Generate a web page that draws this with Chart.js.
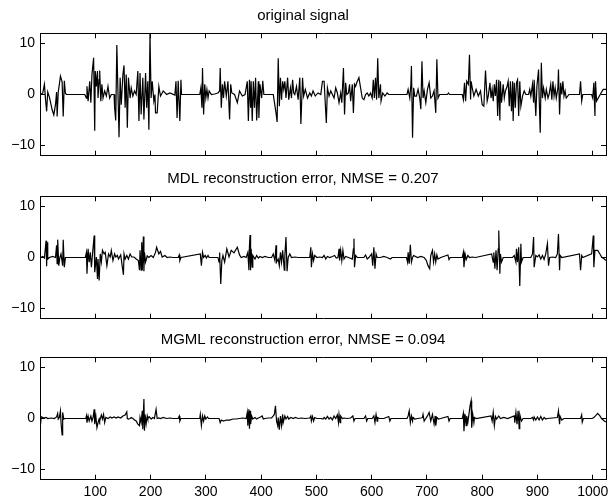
<!DOCTYPE html>
<html>
<head>
<meta charset="utf-8">
<script src="https://cdn.jsdelivr.net/npm/chart.js@4.4.0/dist/chart.umd.min.js"></script>
<style>
  body { margin: 0; background: #fff; }
  #fig { position: relative; width: 613px; height: 498px; }
  canvas { position: absolute; left: 0; }
</style>
</head>
<body>
<div id="fig">
  <canvas id="c1" width="613" height="163" style="top:0px"></canvas>
  <canvas id="c2" width="613" height="163" style="top:163px"></canvas>
  <canvas id="c3" width="613" height="174" style="top:324px"></canvas>
</div>
<script>
// sample index, value pairs
var originalSignal = [
  [1,0],[5,0.3],[8,2.0],[10,-1.0],[12,-3.3],[14,0.5],[17,-0.5],[22,-3.0],[25,-4.0],[28,-2.0],[30,0.5],[31,-4.3],[33,0.5],[35,2.0],[37,3.6],[40,2.5],[42,-4.3],[44,2.7],[46,0.2],[48,0],
  [81,0],[84,-0.7],[85,1.6],[87,-1.3],[90,2.6],[92,-1.6],[94,3.9],[97,7.2],[99,-7.1],[100,4.6],[102,1.6],[104,4.6],[105,-0.7],[107,2.9],[108,4.7],[110,-1.3],[112,2.0],[114,-0.7],[117,0.7],[120,-0.3],[123,1.6],[126,-0.7],[129,0],[134,0],[135,-2.6],[137,-5.1],[139,9.7],[143,-8.4],[145,3.3],[147,-2.0],[150,3.9],[152,5.7],[154,-2.6],[156,3.9],[158,-6.5],[160,3.3],[163,-0.7],[165,1.3],[168,-0.3],[171,0.7],[174,0],[177,4.6],[179,-5.2],[181,4.2],[183,-3.9],[186,3.3],[188,-4.9],[191,4.2],[193,-2.6],[195,2.6],[197,-6.9],[199,11.9],[201,-0.7],[203,2.6],[206,-1.3],[208,0],[209,-3.6],[212,-3.6],[215,1.6],[218,-0.3],[223,0.7],[229,0],[235,0.3],[244,-0.1],[246,2.6],[248,-4.6],[250,2.7],[253,-5.2],[255,2.9],[256,0],
  [289,0],[291,1.3],[293,-2.6],[294,5.2],[296,-3.9],[298,2.0],[300,-0.7],[302,1.0],[304,-0.7],[306,0.7],[310,0],[316,0.1],[322,0.3],[325,0.7],[326,5.2],[328,-2.6],[330,2.0],[332,-0.7],[334,2.6],[337,-0.3],[340,2.6],[343,-4.9],[345,2.0],[347,0.3],[352,0],[357,-1.6],[361,0.7],[366,-0.3],[371,0],[375,2.6],[377,-5.2],[379,2.9],[381,-2.6],[382,2.6],[384,-5.2],[386,2.6],[388,-2.6],[390,3.3],[392,-5.1],[395,2.6],[396,-4.6],[398,2.0],[401,-0.7],[403,2.7],[405,0],[408,0],
  [422,0],[427,-3.6],[429,-5.4],[431,7.1],[433,-2.3],[435,3.3],[437,-1.0],[439,2.6],[441,1.0],[443,2.6],[445,-0.7],[448,3.3],[450,-1.0],[453,1.3],[455,-0.7],[457,2.9],[459,0.3],[461,0],[464,1.6],[467,-1.0],[470,3.3],[472,-5.8],[475,3.3],[477,-0.3],[480,1.0],[484,-0.7],[488,0.3],[491,-0.3],[494,0.7],[498,-0.3],[503,0.3],[508,0],
  [511,2.6],[514,2.6],[518,-5.6],[520,1.3],[523,-0.3],[526,0.7],[529,0],[532,-0.7],[535,1.3],[538,0.3],[541,-1.6],[544,0.3],[546,-1.6],[549,5.2],[551,-3.9],[553,2.3],[555,0],[558,0.3],[560,2.0],[562,-1.3],[565,2.0],[567,-3.6],[569,2.0],[571,1.6],[573,2.3],[577,3.3],[580,1.3],[583,-0.7],[586,-1.0],[589,0],[592,0.3],[595,-0.3],[598,0.3],[601,-0.7],[603,2.9],[605,-0.7],[607,3.3],[609,-1.0],[611,7.1],[613,-0.7],[616,2.0],[617,-1.3],[620,0.3],[624,-0.3],[628,0.3],[631,0],[637,0],
  [664,0],[666,1.0],[669,-0.7],[671,2.0],[672,5.6],[674,-8.5],[676,1.3],[678,-0.3],[681,-0.3],[684,1.0],[687,-0.7],[689,-2.9],[691,6.5],[693,-0.7],[695,0.7],[698,-1.6],[701,1.0],[704,2.3],[707,-0.7],[710,-0.3],[713,0.7],[716,-3.6],[718,6.9],[720,-0.7],[723,0],[737,0],[739,0.3],[741,0],
  [764,0],[766,-1.0],[768,2.3],[770,-1.3],[772,2.6],[775,2.0],[777,7.8],[779,-1.0],[780,2.6],[782,1.3],[785,-0.3],[789,1.0],[793,-0.3],[797,0.7],[800,-2.0],[803,-2.3],[806,4.7],[809,-1.3],[811,-0.3],[814,2.3],[816,-0.7],[818,1.0],[820,-1.3],[822,2.0],[824,-0.3],[826,2.9],[828,-4.2],[830,2.9],[832,-5.1],[833,2.6],[835,-1.6],[838,2.0],[840,-0.7],[842,0.7],[845,1.6],[847,2.6],[849,-2.3],[851,2.6],[853,-3.3],[855,2.6],[856,-5.2],[858,2.3],[860,-2.6],[862,2.3],[864,2.9],[866,-4.2],[868,2.6],[870,-2.3],[873,-0.3],[876,0.7],[879,0],
  [884,0],[886,1.0],[888,-0.3],[891,2.0],[893,-1.6],[894,2.9],[897,-4.2],[899,1.6],[902,4.9],[903,-0.3],[905,-7.5],[907,6.2],[909,-0.7],[911,1.3],[914,-0.7],[916,1.0],[919,-0.7],[921,0],[924,2.0],[926,-1.0],[928,2.6],[930,-0.3],[932,1.3],[934,-0.7],[937,1.3],[938,4.9],[940,-3.9],[942,2.3],[944,0],[946,2.6],[948,-0.3],[950,0.7],[952,-0.7],[957,0],
  [976,0],[978,2.6],[980,-1.3],[982,0],[998,0],[1000,-0.7],[1002,2.3],[1004,-4.2],[1005,2.6],[1007,-1.3],[1010,-0.7],[1015,0.3],[1019,1.0],[1024,1.0]
];

var mdlError = [
  [1,0],[5,0.2],[8,-0.1],[11,3.3],[12,-1.7],[13,3.0],[14,-0.3],[17,0],[23,0.2],[28,0],[30,2.4],[31,-1.2],[32,3.5],[34,-1.6],[36,0],[38,0.7],[41,-1.6],[42,3.5],[44,-1.9],[46,0],
  [82,0],[84,1.0],[85,-3.2],[87,1.7],[89,-0.9],[91,1.0],[93,-1.9],[95,0.7],[98,4.3],[99,-2.9],[102,0.1],[104,-4.2],[105,-0.3],[107,-4.5],[109,0.7],[111,-0.9],[113,1.4],[116,0.7],[118,1.0],[121,-1.6],[124,0.7],[127,0.1],[129,1.4],[132,-0.6],[135,0.7],[137,0.1],[140,0.4],[142,-0.3],[146,0.5],[149,-1.9],[151,-3.4],[152,0.7],[154,-0.3],[157,0.4],[160,-0.3],[163,0.7],[166,0.1],[170,0.1],[174,-0.3],[178,-0.6],[180,-2.5],[181,1.4],[183,-2.5],[184,3.0],[185,-2.5],[187,4.1],[188,-2.7],[189,1.0],[191,-0.9],[194,0.3],[197,0],[201,0.4],[205,0],[209,1.0],[211,2.0],[215,0.7],[218,1.2],[221,0.1],[226,0.4],[230,0],[235,0.1],[241,0],[250,0],[252,0.5],[253,-0.6],[255,0],
  [290,0.7],[292,-1.6],[294,1.0],[296,0],[299,0.4],[301,-0.1],[304,0.4],[306,0],[322,0],[324,-0.9],[325,1.0],[327,-5.2],[329,-0.6],[331,0.4],[334,-0.9],[338,1.7],[342,0.1],[346,1.4],[351,0.9],[357,2.0],[361,0.5],[364,0],[369,0.2],[373,0],[376,1.0],[378,-2.5],[379,2.4],[380,4.4],[381,-2.5],[382,1.7],[384,-1.9],[385,0.4],[389,-0.3],[392,0.4],[395,-0.1],[398,0.2],[402,0],[407,0.2],[413,0],
  [419,0],[422,0.7],[425,-0.6],[427,2.4],[428,-0.9],[431,-0.3],[433,-1.6],[435,1.0],[437,-0.9],[439,1.4],[442,-2.5],[443,0.4],[445,4.0],[447,-2.7],[449,0],[452,0.7],[455,0],[461,0.1],[467,0],[488,0],[490,2.0],[491,-1.9],[493,0.7],[495,-0.6],[497,0.4],[501,0],[506,0.1],
  [511,0],[514,0.4],[517,-0.3],[520,0.2],[524,0],[529,0.2],[533,0.4],[536,-0.1],[539,0],[541,1.7],[542,-0.6],[544,1.4],[546,-0.6],[548,1.4],[550,-0.3],[553,0.2],[558,0],[565,-0.3],[567,1.7],[568,3.7],[569,-1.9],[571,0.4],[574,0],[586,0],[589,0.5],[592,-0.3],[595,0],[600,0.7],[602,-1.6],[604,2.0],[606,-2.2],[608,0.7],[610,0],[616,0],[622,0.2],[628,0],[634,-0.3],[637,0],
  [663,0],[665,-0.9],[666,1.0],[668,-1.2],[670,2.5],[672,-0.9],[674,0],[676,0.4],[683,0],[689,0.2],[695,0],[699,-0.6],[702,-1.6],[705,-2.2],[707,0.4],[710,1.4],[712,-0.9],[714,0.7],[716,-0.9],[718,0.5],[720,-0.3],[725,0],[738,0.5],[740,-0.4],[742,0],
  [764,0],[766,1.0],[767,-1.9],[769,0.7],[771,-0.4],[774,0.4],[777,0],[782,0.1],[788,0],[817,0.7],[820,-0.9],[821,1.0],[823,-2.2],[825,1.4],[827,-2.5],[829,1.7],[830,5.3],[832,-3.2],[833,0.7],[835,-0.9],[838,0],[855,0],[858,0.4],[861,-0.9],[862,1.7],[864,-0.9],[866,2.0],[868,-5.6],[870,2.7],[871,-0.9],[874,0],
  [888,0],[891,0.7],[893,4.0],[894,-1.9],[897,0.4],[900,0.1],[903,0.5],[906,-0.3],[909,0.4],[912,-0.4],[915,0.7],[918,2.7],[920,-1.6],[922,0],[927,0.1],[933,0],[936,0.7],[938,4.6],[940,-2.5],[941,0.4],[944,0],
  [976,0.7],[978,-2.5],[980,0.4],[982,0],[998,0.7],[1001,4.3],[1002,-1.9],[1004,1.4],[1007,1.4],[1009,1.4],[1013,0.7],[1016,0.1],[1021,-0.3],[1024,-0.6]
];

var mgmlError = [
  [1,-1.1],[2,0],[3,0.3],[7,0.1],[11,0.2],[14,0],[20,0.1],[26,0],[30,0.3],[32,1.0],[33,-0.1],[35,0.2],[37,1.5],[38,-0.8],[40,-3.2],[41,1.2],[43,-0.1],[45,0],
  [83,0],[84,0.5],[85,-0.8],[87,0.5],[89,-0.5],[92,0.5],[94,-0.5],[96,0.2],[98,1.8],[99,-1.1],[101,0.5],[103,-1.8],[105,-0.8],[107,-0.1],[108,-0.5],[111,0.7],[113,-0.1],[115,0.8],[117,-0.8],[119,0.2],[123,0],[127,0.3],[130,0.1],[134,0.3],[138,0.1],[141,0.3],[146,0.1],[150,0.5],[154,0.7],[157,1.3],[158,0],[160,-0.1],[163,0],[165,0.2],[168,0],[171,-0.3],[174,-0.5],[177,-1.1],[180,-1.4],[181,0.2],[183,-0.8],[185,1.5],[186,-2.1],[188,3.8],[189,-2.4],[190,0.8],[192,-1.1],[194,0.5],[195,0],[198,0.3],[201,-0.1],[204,0.2],[207,0],[210,1.8],[212,0],[215,0.1],[218,0],[223,0.2],[229,0],[235,0.1],[241,0],[250,0],[252,0.5],[253,-0.5],[255,0],
  [289,0],[290,0.8],[292,-1.4],[294,0.5],[296,-0.5],[298,0.5],[300,-0.1],[303,0.3],[305,0],[324,0],[326,-0.8],[328,-0.3],[332,-0.5],[337,-0.3],[343,-0.3],[349,-0.1],[355,-0.1],[361,0],[367,0.1],[373,0],[375,1.2],[376,-1.4],[378,1.8],[379,-2.0],[380,1.5],[381,-1.1],[383,0.5],[385,-0.1],[389,0.2],[392,-0.1],[395,0.1],[399,0.3],[402,0.5],[404,-0.1],[407,0],[413,0.1],
  [419,0.1],[422,0.5],[424,0.8],[426,2.5],[428,-0.5],[430,-1.4],[431,0.2],[433,-2.2],[435,0.5],[437,-1.4],[439,0.8],[440,-0.8],[443,0.5],[445,-0.1],[448,0.4],[450,-0.1],[454,0.2],[458,0],[462,0.2],[467,0],[473,0.1],[479,0],[488,0.1],[490,0.5],[491,-0.5],[493,0.4],[495,-0.5],[497,0.2],[501,0],[508,0],
  [512,-0.1],[514,0.2],[517,-0.1],[520,0.4],[523,-0.1],[526,0.2],[529,-0.3],[532,0.5],[535,0],[538,0.7],[540,-0.8],[541,0.8],[543,-0.8],[544,0.5],[547,0],[550,0.1],[556,0],[562,0.1],[566,0.5],[568,-0.5],[570,0],[586,0],[589,0.5],[591,-0.5],[593,0],[601,0],[604,0.5],[606,-0.8],[608,0.8],[610,-0.5],[611,0.2],[614,0],[622,0],[631,0.4],[633,-0.5],[635,0],
  [664,0],[666,0.5],[668,1.5],[670,-0.8],[672,0.5],[674,-0.5],[675,0.2],[678,-0.1],[683,0],[689,0.1],[692,0.2],[693,0.8],[695,-0.5],[698,0],[701,0.5],[704,1.2],[707,-0.5],[710,0.8],[713,-1.1],[715,0.5],[716,-1.4],[718,0.2],[721,-0.1],[725,0],[738,0.4],[740,-0.5],[742,0],
  [764,0],[766,1.0],[767,-2.5],[769,0.8],[771,-1.4],[772,0.5],[774,-0.8],[776,0.8],[778,2.5],[780,3.5],[781,-1.8],[783,0.8],[785,-0.8],[786,0.2],[789,0],[816,0.5],[818,-0.5],[820,1.2],[822,-1.4],[824,0.4],[826,-0.1],[830,0.5],[833,0],[839,0.2],[846,0],[858,0.5],[859,-0.8],[861,1.2],[863,-1.1],[865,1.5],[867,-2.0],[868,0.8],[871,-0.5],[874,0],
  [888,0],[891,0.2],[893,-0.3],[894,0.3],[897,-0.3],[900,0.3],[903,-0.3],[906,0.4],[909,-0.3],[912,0.2],[915,-0.1],[918,0],[936,0.2],[938,1.5],[940,-1.1],[941,0.4],[944,-0.3],[948,0],
  [978,0],[980,0.7],[981,-0.7],[983,0],[999,0],[1002,0.2],[1005,0.5],[1009,1.0],[1013,0.5],[1016,0],[1021,-0.5],[1024,-0.7]
];

var titles = [
  'original signal',
  'MDL reconstruction error, NMSE = 0.207',
  'MGML reconstruction error, NMSE = 0.094'
];
var xTicks = [100, 200, 300, 400, 500, 600, 700, 800, 900, 1000];
var yTicks = [-10, 0, 10];

var FONT = 'Liberation Sans, Arial, Helvetica, sans-serif';

// put the ticks exactly where matlab had them
function setTicks(list) {
  return function (scale) {
    scale.ticks = list.map(function (v) { return { value: v }; });
  };
}

// fixed axis size, and no extra room asked for by the labels
function fixSize(prop, size) {
  return function (scale) {
    scale[prop] = size;
    scale.paddingTop = 0;
    scale.paddingBottom = 0;
    scale.paddingLeft = 0;
    scale.paddingRight = 0;
  };
}

function axis(pos, opts) {
  var horiz = pos === 'top' || pos === 'bottom';
  return {
    type: 'linear',
    position: pos,
    min: horiz ? 0 : -12,
    max: horiz ? 1024 : 12,
    ticks: {
      color: '#000',
      font: { family: FONT, size: 14 },
      display: !!opts.labels,
      padding: horiz ? 9.5 : 10,
      maxRotation: 0,
      autoSkip: false,
      callback: function (v) { return String(v).replace('-', '\u2212'); }
    },
    grid: { drawOnChartArea: false, color: '#000', tickColor: '#000', tickLength: -5, tickWidth: 1 },
    border: { display: true, color: '#000', width: 1 },
    afterBuildTicks: setTicks(horiz ? xTicks : yTicks),
    afterFit: fixSize(horiz ? 'height' : 'width', opts.size)
  };
}

function makeChart(id, idx, series, showX, bottomH) {
  new Chart(document.getElementById(id), {
    type: 'line',
    data: {
      datasets: [{
        data: series.map(function (p) { return { x: p[0], y: p[1] }; }),
        borderColor: '#000',
        borderWidth: 1.2,
        pointRadius: 0,
        tension: 0,
        fill: false
      }]
    },
    options: {
      responsive: false,
      animation: false,
      layout: { padding: { left: 0, right: 7, top: 0, bottom: 0 } },
      plugins: {
        legend: { display: false },
        tooltip: { enabled: false },
        title: {
          display: true,
          text: titles[idx],
          color: '#000',
          font: { family: FONT, size: 15, weight: 'normal', lineHeight: 1.2 },
          padding: { top: 7, bottom: 8.3 }
        }
      },
      scales: {
        x: axis('bottom', { labels: showX, size: bottomH }),
        x2: axis('top', { labels: false, size: 0 }),
        y: axis('left', { labels: true, size: 40 }),
        y2: axis('right', { labels: false, size: 0 })
      }
    }
  });
}

makeChart('c1', 0, originalSignal, false, 7.3);
makeChart('c2', 1, mdlError, false, 7.3);
makeChart('c3', 2, mgmlError, true, 18.3);
</script>
</body>
</html>
